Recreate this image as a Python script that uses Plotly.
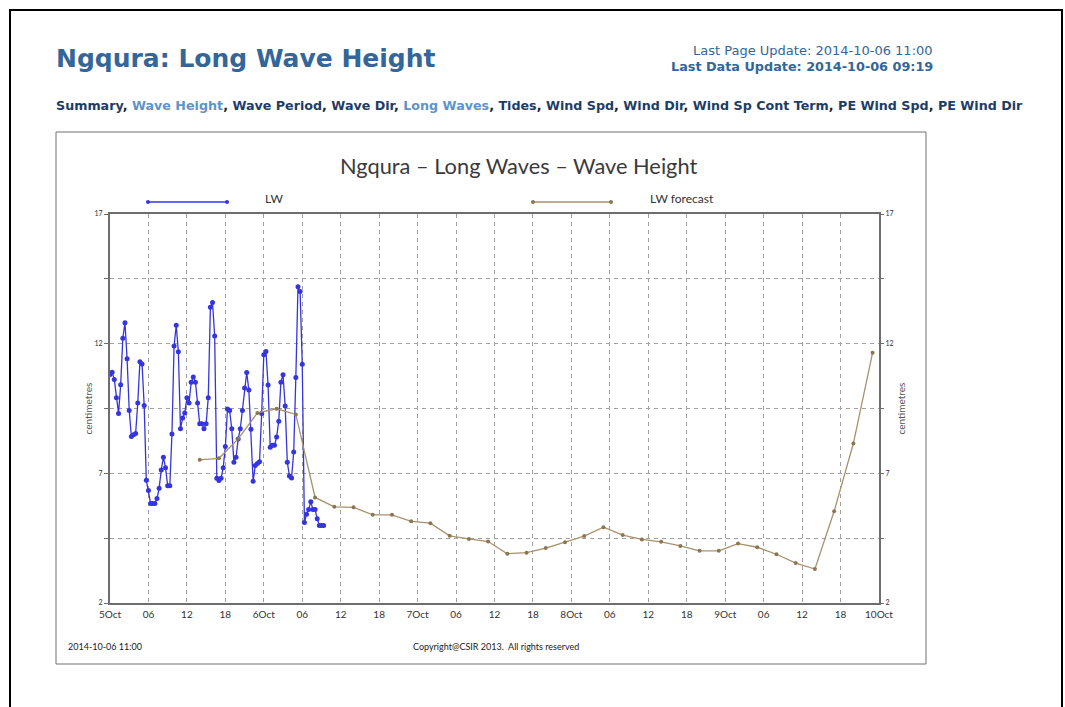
import numpy as np
import pandas as pd
import plotly.graph_objects as go

# ---------------- data ----------------
# observed long-wave height (cm), every 20 minutes from 2014-10-05 00:00
lw_values = [
    10.81, 10.90, 10.62, 9.91, 9.31, 10.42, 12.21, 12.81, 11.42, 9.42,
    8.42, 8.49, 8.54, 9.71, 11.30, 11.22, 9.62, 6.73, 6.34, 5.84,
    5.84, 5.84, 6.03, 6.42, 7.13, 7.62, 7.22, 6.52, 6.52, 8.52,
    11.91, 12.71, 11.69, 8.72, 9.13, 9.33, 9.91, 9.71, 10.51, 10.71,
    10.51, 9.71, 8.91, 8.91, 8.72, 8.91, 9.91, 13.40, 13.59, 12.30,
    6.81, 6.72, 6.81, 7.22, 8.03, 9.48, 9.42, 8.72, 7.43, 7.62,
    8.32, 8.72, 9.42, 10.29, 10.89, 10.21, 8.70, 6.69, 7.30, 7.38,
    7.45, 9.31, 11.57, 11.70, 10.41, 8.01, 8.08, 8.08, 8.40, 9.01,
    10.51, 10.80, 9.60, 7.43, 6.90, 6.82, 7.82, 10.70, 14.19, 14.01,
    11.21, 5.10, 5.42, 5.61, 5.90, 5.61, 5.61, 5.25, 4.99, 4.99,
    4.99,
]
# forecast long-wave height (cm), every 3 hours from 2014-10-05 14:00
forecast_values = [
    7.52, 7.58, 8.33, 9.33, 9.49, 9.27, 6.07, 5.71, 5.69, 5.40,
    5.40, 5.15, 5.08, 4.59, 4.47, 4.37, 3.90, 3.94, 4.12, 4.34,
    4.58, 4.92, 4.62, 4.45, 4.36, 4.20, 4.01, 4.01, 4.29, 4.15,
    3.88, 3.54, 3.31, 5.54, 8.15, 11.65,
]
x_tick_labels = ["5Oct", "06", "12", "18", "6Oct", "06", "12", "18",
                 "7Oct", "06", "12", "18", "8Oct", "06", "12", "18",
                 "9Oct", "06", "12", "18", "10Oct"]
y_tick_values = [2, 4.5, 7, 9.5, 12, 14.5, 17]
y_tick_labels = ["2", "", "7", "", "12", "", "17"]

start = pd.Timestamp("2014-10-05 00:00")
lw_times = start + pd.to_timedelta(np.arange(len(lw_values)) * 20, unit="min")
fc_times = start + pd.to_timedelta(14 + 3 * np.arange(len(forecast_values)), unit="h")
x_tick_times = pd.date_range(start, periods=len(x_tick_labels), freq="6h")

# ---------------- geometry helpers ----------------
W_PX, H_PX = 1065, 707
L, R, T, B = 110, 879, 214, 603


def px(x):
    return (x - L) / (R - L)


def py(y):
    return (B - y) / (B - T)


BLUE = "#3535e0"
BROWN_LINE = "#a8916c"
BROWN_MARK = "#8b7652"
TITLE_BLUE = "#336699"
NAV_DARK = "#1d3d66"
NAV_LIGHT = "#5f93c9"
CHART_FONT = "Lato"

fig = go.Figure()

fig.add_trace(go.Scatter(
    x=lw_times, y=lw_values, mode="lines+markers", name="LW",
    line=dict(color=BLUE, width=1.3),
    marker=dict(color=BLUE, size=5),
    showlegend=False,
))
fig.add_trace(go.Scatter(
    x=fc_times, y=forecast_values, mode="lines+markers", name="LW forecast",
    line=dict(color=BROWN_LINE, width=1.3),
    marker=dict(color=BROWN_MARK, size=4),
    showlegend=False,
))
# invisible trace to activate right axis
fig.add_trace(go.Scatter(x=[lw_times[0]], y=[lw_values[0]], yaxis="y2",
                         mode="markers", marker=dict(opacity=0),
                         showlegend=False, hoverinfo="skip"))

fig.update_layout(
    width=W_PX, height=H_PX, autosize=False,
    margin=dict(l=L, r=W_PX - R, t=T, b=H_PX - B),
    paper_bgcolor="white", plot_bgcolor="white",
    xaxis=dict(
        type="date",
        range=[x_tick_times[0], x_tick_times[-1]],
        tickvals=x_tick_times, ticktext=x_tick_labels,
        tickfont=dict(family=CHART_FONT, size=10, color="#333"),
        showgrid=True, gridcolor="#a0a0a0", gridwidth=1, griddash="4px,4px",
        showline=True, linecolor="#6e6e6e", linewidth=2, mirror=True,
        ticks="", zeroline=False, ticklabelstandoff=1,
    ),
    yaxis=dict(
        range=[2, 17], tickvals=y_tick_values, ticktext=y_tick_labels,
        tickfont=dict(family=CHART_FONT, size=7, color="#333"),
        showgrid=True, gridcolor="#a0a0a0", gridwidth=1, griddash="4px,4px",
        showline=True, linecolor="#6e6e6e", linewidth=2, mirror=True,
        ticks="outside", ticklen=4, tickcolor="#6e6e6e", zeroline=False,
        title=dict(text="centimetres", font=dict(family=CHART_FONT, size=10, color="#555"), standoff=0),
    ),
    yaxis2=dict(
        range=[2, 17], overlaying="y", side="right",
        tickvals=y_tick_values, ticktext=y_tick_labels,
        tickfont=dict(family=CHART_FONT, size=7, color="#333"),
        showgrid=False, ticks="outside", ticklen=4, tickcolor="#6e6e6e",
        zeroline=False, showline=False,
        title=dict(text="centimetres", font=dict(family=CHART_FONT, size=10, color="#555"), standoff=5),
    ),
)

shapes = []
# page border
shapes.append(dict(type="rect", xref="paper", yref="paper",
                   x0=px(10), x1=px(1062), y0=py(740), y1=py(10),
                   line=dict(color="black", width=2), layer="below"))
# chart box
shapes.append(dict(type="rect", xref="paper", yref="paper",
                   x0=px(56), x1=px(926), y0=py(664), y1=py(132),
                   line=dict(color="#707070", width=1), layer="below"))
# legend sample lines
for x0, x1, c, mc in [(148, 227, BLUE, BLUE), (533, 611, BROWN_LINE, BROWN_MARK)]:
    shapes.append(dict(type="line", xref="paper", yref="paper",
                       x0=px(x0), x1=px(x1), y0=py(202), y1=py(202),
                       line=dict(color=c, width=1.3)))
    for xc in (x0, x1):
        shapes.append(dict(type="circle", xref="paper", yref="paper",
                           x0=px(xc - 2), x1=px(xc + 2), y0=py(204), y1=py(200),
                           fillcolor=mc, line=dict(color=mc, width=0)))
fig.update_layout(shapes=shapes)

ann = []


def add_text(text, x, y, size, color, family="DejaVu Sans", xanchor="left", bold=False):
    ann.append(dict(text=f"<b>{text}</b>" if bold else text, x=px(x), y=py(y),
                    xref="paper", yref="paper", xanchor=xanchor, yanchor="middle",
                    showarrow=False, font=dict(family=family, size=size, color=color)))


add_text("Ngqura: Long Wave Height", 54, 59, 25, TITLE_BLUE, bold=True)
add_text("Last Page Update: 2014-10-06 11:00", 935, 50, 13, TITLE_BLUE, xanchor="right")
add_text("Last Data Update: 2014-10-06 09:19", 935, 66, 12.8, TITLE_BLUE, xanchor="right", bold=True)

nav_items = [("Summary", NAV_DARK), ("Wave Height", NAV_LIGHT), ("Wave Period", NAV_DARK),
             ("Wave Dir", NAV_DARK), ("Long Waves", NAV_LIGHT), ("Tides", NAV_DARK),
             ("Wind Spd", NAV_DARK), ("Wind Dir", NAV_DARK), ("Wind Sp Cont Term", NAV_DARK),
             ("PE Wind Spd", NAV_DARK), ("PE Wind Dir", NAV_DARK)]
nav_html = "<span style='color:#222'>, </span>".join(
    f"<span style='color:{c}'>{t}</span>" for t, c in nav_items)
add_text(nav_html, 54, 105, 12.7, NAV_DARK, bold=True)

add_text("Ngqura – Long Waves – Wave Height", 518, 165, 21.8, "#3a3a3a", family=CHART_FONT, xanchor="center")
add_text("LW", 263, 199, 12, "#333", family=CHART_FONT)
add_text("LW forecast", 648, 199, 12, "#333", family=CHART_FONT)
add_text("2014-10-06 11:00", 66, 646, 9, "#222", family=CHART_FONT)
add_text("Copyright@CSIR 2013.  All rights reserved", 496, 646, 9, "#222", family=CHART_FONT, xanchor="center")

fig.update_layout(annotations=ann)

fig.write_html("out.html")
